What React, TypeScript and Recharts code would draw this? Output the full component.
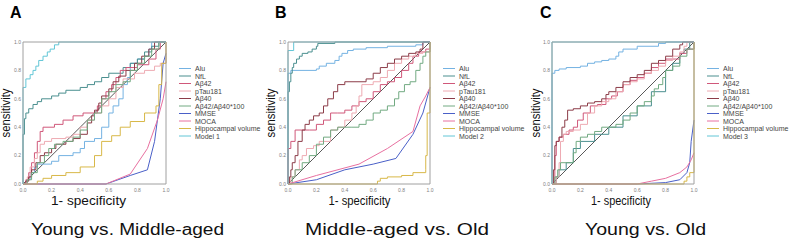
import React from 'react';
import { LineChart, Line, XAxis, YAxis, ReferenceLine } from 'recharts';

type P = [number, number];

const TICKS = [0, 0.2, 0.4, 0.6, 0.8, 1];
const SERIES_NAMES = ['Alu', 'NfL', 'Aβ42', 'pTau181', 'Aβ40', 'Aβ42/Aβ40*100', 'MMSE', 'MOCA', 'Hippocampal volume'];
const MODEL_NAMES = ['Model 1', 'Model 2', 'Model 3'];
const PANEL_LETTERS = ['A', 'B', 'C'];
const SUBTITLES = ['Young vs. Middle-aged', 'Middle-aged vs. Old', 'Young vs. Old'];
const SMOOTH_SERIES = ['MMSE', 'MOCA'];

// ---------- Panel A ----------
const A_ALU: P[] = [[0,0],[0.03,0.03],[0.05,0.08],[0.08,0.12],[0.1,0.14],[0.2,0.16],[0.25,0.2],[0.35,0.22],[0.4,0.25],[0.43,0.3],[0.5,0.32],[0.55,0.4],[0.6,0.5],[0.63,0.55],[0.67,0.6],[0.7,0.7],[0.73,0.75],[0.75,0.85],[0.8,0.88],[0.85,0.9],[0.88,0.95],[0.9,1],[1,1]];
const A_NFL: P[] = [[0,0],[0,0.35],[0.01,0.46],[0.02,0.5],[0.04,0.53],[0.07,0.56],[0.1,0.58],[0.13,0.6],[0.2,0.62],[0.25,0.64],[0.3,0.66],[0.4,0.68],[0.45,0.7],[0.5,0.72],[0.55,0.75],[0.6,0.78],[0.7,0.82],[0.75,0.85],[0.8,0.88],[0.85,0.93],[0.9,0.97],[0.95,1],[1,1]];
const A_AB42: P[] = [[0,0],[0.02,0.03],[0.04,0.08],[0.06,0.15],[0.08,0.22],[0.1,0.3],[0.12,0.37],[0.14,0.4],[0.22,0.42],[0.28,0.45],[0.35,0.48],[0.42,0.5],[0.5,0.5],[0.52,0.55],[0.55,0.6],[0.58,0.65],[0.62,0.7],[0.65,0.75],[0.68,0.8],[0.72,0.82],[0.8,0.84],[0.88,0.88],[0.93,0.95],[0.96,1],[1,1]];
const A_PTAU: P[] = [[0,0],[0.03,0.05],[0.05,0.12],[0.08,0.18],[0.1,0.22],[0.12,0.28],[0.15,0.3],[0.2,0.32],[0.3,0.33],[0.35,0.35],[0.4,0.4],[0.45,0.45],[0.5,0.5],[0.55,0.55],[0.6,0.6],[0.65,0.68],[0.7,0.74],[0.78,0.78],[0.85,0.8],[0.92,0.83],[0.96,0.85],[1,0.85],[1,1]];
const A_AB40: P[] = [[0,0],[0.02,0.02],[0.04,0.05],[0.06,0.1],[0.09,0.15],[0.12,0.2],[0.15,0.22],[0.2,0.25],[0.23,0.28],[0.3,0.3],[0.35,0.32],[0.4,0.35],[0.45,0.43],[0.48,0.48],[0.5,0.52],[0.53,0.57],[0.55,0.62],[0.6,0.67],[0.63,0.72],[0.67,0.76],[0.72,0.8],[0.78,0.85],[0.83,0.9],[0.88,0.95],[0.92,1],[1,1]];
const A_RATIO: P[] = [[0,0],[0.03,0.03],[0.06,0.08],[0.1,0.15],[0.15,0.2],[0.18,0.25],[0.22,0.28],[0.28,0.3],[0.35,0.33],[0.4,0.38],[0.45,0.45],[0.5,0.5],[0.55,0.6],[0.6,0.65],[0.65,0.7],[0.7,0.72],[0.75,0.8],[0.8,0.85],[0.85,0.9],[0.9,0.95],[0.95,1],[1,1]];
const A_MMSE: P[] = [[0,0],[0.58,0],[0.75,0.06],[0.87,0.1],[0.92,0.3],[0.96,0.6],[0.98,0.85],[1,0.92]];
const A_MOCA: P[] = [[0,0],[0.58,0],[0.75,0.07],[0.87,0.25],[0.94,0.45],[0.98,0.6],[1,0.72]];
const A_HIPPO: P[] = [[0,0],[0.1,0],[0.1,0.02],[0.14,0.04],[0.2,0.06],[0.3,0.08],[0.4,0.12],[0.5,0.2],[0.55,0.3],[0.62,0.34],[0.68,0.4],[0.75,0.44],[0.85,0.5],[0.93,0.55],[0.95,0.7],[0.97,0.85],[1,0.85],[1,1]];
const A_MODEL: P[] = [[0,0],[0,0.68],[0.02,0.74],[0.05,0.77],[0.07,0.8],[0.09,0.83],[0.11,0.87],[0.14,0.9],[0.17,0.93],[0.19,0.95],[0.22,0.98],[0.25,1],[1,1]];

// ---------- Panel B ----------
const B_ALU: P[] = [[0,0],[0,0.78],[0.02,0.8],[0.2,0.81],[0.22,0.83],[0.27,0.85],[0.33,0.87],[0.36,0.9],[0.38,0.92],[0.42,0.94],[0.46,0.95],[0.55,0.96],[0.7,0.97],[0.9,0.98],[0.95,1],[1,1]];
const B_NFL: P[] = [[0,0],[0,0.65],[0.01,0.72],[0.02,0.78],[0.03,0.82],[0.04,0.85],[0.06,0.88],[0.08,0.9],[0.1,0.92],[0.14,0.93],[0.17,0.95],[0.2,0.97],[0.21,0.99],[0.33,1],[1,1]];
const B_AB42: P[] = [[0,0],[0,0.25],[0.02,0.3],[0.05,0.38],[0.15,0.38],[0.2,0.42],[0.25,0.45],[0.3,0.5],[0.35,0.5],[0.4,0.52],[0.45,0.55],[0.5,0.58],[0.55,0.6],[0.6,0.65],[0.65,0.7],[0.7,0.72],[0.75,0.75],[0.8,0.8],[0.85,0.85],[0.88,0.9],[0.92,0.93],[0.97,0.95],[1,0.95],[1,1]];
const B_PTAU: P[] = [[0,0],[0.02,0.05],[0.05,0.1],[0.08,0.17],[0.1,0.2],[0.13,0.25],[0.18,0.27],[0.22,0.3],[0.3,0.38],[0.35,0.4],[0.4,0.45],[0.45,0.5],[0.48,0.55],[0.5,0.62],[0.52,0.7],[0.6,0.72],[0.65,0.75],[0.7,0.8],[0.75,0.85],[0.8,0.88],[0.85,0.9],[0.9,0.92],[0.95,0.93],[1,0.93],[1,1]];
const B_AB40: P[] = [[0,0],[0.01,0.05],[0.02,0.1],[0.03,0.15],[0.05,0.2],[0.07,0.3],[0.1,0.38],[0.12,0.42],[0.15,0.45],[0.18,0.48],[0.22,0.5],[0.25,0.55],[0.28,0.6],[0.32,0.65],[0.35,0.7],[0.4,0.72],[0.5,0.72],[0.55,0.74],[0.6,0.78],[0.65,0.82],[0.7,0.85],[0.75,0.88],[0.8,0.9],[0.85,0.92],[0.9,0.93],[0.93,0.95],[0.95,1],[1,1]];
const B_RATIO: P[] = [[0,0],[0.03,0.05],[0.05,0.1],[0.1,0.15],[0.15,0.2],[0.2,0.28],[0.25,0.33],[0.3,0.38],[0.35,0.4],[0.45,0.4],[0.5,0.42],[0.55,0.45],[0.6,0.5],[0.65,0.52],[0.7,0.55],[0.75,0.6],[0.78,0.65],[0.82,0.7],[0.86,0.72],[0.9,0.8],[0.93,0.85],[0.95,0.9],[0.97,0.93],[1,1]];
const B_MMSE: P[] = [[0,0],[0.2,0.03],[0.4,0.1],[0.6,0.14],[0.76,0.18],[0.88,0.35],[0.95,0.5],[1,0.68]];
const B_MOCA: P[] = [[0,0],[0.2,0.06],[0.5,0.14],[0.7,0.25],[0.88,0.37],[0.93,0.55],[0.97,0.62],[1,0.68]];
const B_HIPPO: P[] = [[0,0],[0.62,0],[0.63,0.02],[0.65,0.04],[0.7,0.05],[0.8,0.06],[0.88,0.08],[0.97,0.1],[0.97,0.2],[0.98,0.5],[1,0.5],[1,1]];
const B_MODEL: P[] = [[0,0],[0,0.94],[0.04,1],[1,1]];

// ---------- Panel C ----------
const C_ALU: P[] = [[0,0],[0,0.78],[0.02,0.8],[0.05,0.81],[0.1,0.82],[0.2,0.83],[0.25,0.85],[0.3,0.86],[0.35,0.87],[0.4,0.88],[0.45,0.9],[0.47,0.93],[0.5,0.95],[0.6,0.97],[0.75,0.99],[0.8,1],[1,1]];
const C_NFL: P[] = [[0,0],[0.03,0.05],[0.05,0.1],[0.1,0.15],[0.15,0.25],[0.2,0.3],[0.3,0.35],[0.4,0.4],[0.5,0.48],[0.6,0.55],[0.7,0.65],[0.8,0.8],[0.85,0.85],[0.9,0.92],[0.93,0.95],[0.97,1],[1,1]];
const C_AB42: P[] = [[0,0],[0.02,0.2],[0.03,0.3],[0.05,0.33],[0.08,0.35],[0.12,0.38],[0.15,0.4],[0.18,0.45],[0.22,0.5],[0.27,0.55],[0.32,0.56],[0.38,0.6],[0.42,0.62],[0.46,0.65],[0.5,0.7],[0.55,0.73],[0.6,0.75],[0.65,0.78],[0.7,0.82],[0.75,0.85],[0.8,0.88],[0.9,0.92],[0.95,0.95],[1,0.95],[1,1]];
const C_PTAU: P[] = [[0,0],[0.03,0.05],[0.05,0.15],[0.06,0.3],[0.08,0.35],[0.1,0.37],[0.15,0.38],[0.2,0.42],[0.25,0.5],[0.3,0.55],[0.35,0.58],[0.4,0.6],[0.45,0.65],[0.5,0.7],[0.55,0.72],[0.6,0.74],[0.65,0.78],[0.7,0.8],[0.75,0.83],[0.8,0.87],[0.85,0.9],[0.9,0.93],[0.93,0.97],[0.95,1],[1,1]];
const C_AB40: P[] = [[0,0],[0.01,0.1],[0.02,0.27],[0.03,0.3],[0.05,0.33],[0.07,0.4],[0.09,0.45],[0.11,0.52],[0.15,0.53],[0.2,0.55],[0.25,0.57],[0.3,0.58],[0.35,0.6],[0.38,0.63],[0.4,0.65],[0.45,0.68],[0.5,0.72],[0.55,0.75],[0.6,0.77],[0.65,0.8],[0.7,0.85],[0.75,0.87],[0.8,0.9],[0.85,0.95],[0.9,0.98],[0.92,1],[1,1]];
const C_RATIO: P[] = [[0,0],[0.02,0.05],[0.04,0.1],[0.06,0.15],[0.14,0.15],[0.15,0.22],[0.17,0.3],[0.2,0.33],[0.25,0.35],[0.3,0.37],[0.35,0.4],[0.45,0.42],[0.5,0.45],[0.55,0.5],[0.6,0.55],[0.65,0.58],[0.7,0.62],[0.72,0.67],[0.75,0.7],[0.78,0.75],[0.8,0.8],[0.85,0.83],[0.9,0.9],[0.95,0.95],[1,1]];
const C_MMSE: P[] = [[0,0],[0.6,0],[0.8,0.01],[0.9,0.03],[0.95,0.08],[0.97,0.15],[0.98,0.3],[1,0.45]];
const C_MOCA: P[] = [[0,0],[0.6,0],[0.7,0.02],[0.8,0.04],[0.9,0.08],[0.95,0.12],[0.98,0.17],[1,0.22]];
const C_HIPPO: P[] = [[0,0],[0.93,0],[0.93,0.02],[0.95,0.05],[0.97,0.08],[1,0.08],[1,1]];
const C_MODEL: P[] = [[0,0],[0,1],[1,1]];

const PANEL_DATA: P[][][] = [
  [A_ALU, A_NFL, A_AB42, A_PTAU, A_AB40, A_RATIO, A_MMSE, A_MOCA, A_HIPPO, A_MODEL],
  [B_ALU, B_NFL, B_AB42, B_PTAU, B_AB40, B_RATIO, B_MMSE, B_MOCA, B_HIPPO, B_MODEL],
  [C_ALU, C_NFL, C_AB42, C_PTAU, C_AB40, C_RATIO, C_MMSE, C_MOCA, C_HIPPO, C_MODEL],
];

// ---------- styling ----------
const COLORS = ['#74b2e2', '#4a8f8f', '#d0587a', '#eeaab2', '#8c3c48', '#72aa82', '#4a60c8', '#e870a0', '#d8b848', '#62c6d6'];
const FONT = '"Liberation Sans", Arial, Helvetica, sans-serif';

const LAYOUT = [
  { L: 23, R: 166, T: 42, B: 184, letterX: 10, ylabX: 5.5, xlabCx: 88.5, xlabLen: 75, subCx: 127.5, subLen: 193 },
  { L: 288, R: 430, T: 42, B: 184, letterX: 275, ylabX: 271, xlabCx: 359.5, xlabLen: 62, subCx: 397, subLen: 184 },
  { L: 552, R: 694, T: 42, B: 184, letterX: 540, ylabX: 536, xlabCx: 621, xlabLen: 60, subCx: 645.5, subLen: 121 },
];

const fmt = (v: number) => v.toFixed(1);
const toXY = (pts: P[]) => pts.map(([x, y]) => ({ x, y }));
const tickStyle = { fontSize: 5, fill: '#808080', fontFamily: FONT };
const axisStroke = { stroke: '#a0a0a0', strokeWidth: 1 };

function RocPanel({ idx }: { idx: number }) {
  const lay = LAYOUT[idx];
  const w = lay.R - lay.L + 40;
  const h = lay.B - lay.T + 24;
  const names = [...SERIES_NAMES, MODEL_NAMES[idx]];
  return (
    <div style={{ position: 'absolute', left: lay.L - 20, top: lay.T - 12 }}>
      <LineChart width={w} height={h} margin={{ top: 0, right: 0, bottom: 0, left: 0 }}>
        <XAxis xAxisId="b" dataKey="x" type="number" domain={[0, 1]} ticks={TICKS} interval={0}
          orientation="bottom" height={12} tickSize={0} tickMargin={4} tickLine={false}
          axisLine={axisStroke} tick={tickStyle} tickFormatter={fmt} />
        <XAxis xAxisId="t" dataKey="x" type="number" domain={[0, 1]} ticks={TICKS} interval={0}
          orientation="top" height={12} tickSize={0} tickMargin={5} tickLine={false}
          axisLine={axisStroke} tick={tickStyle} tickFormatter={fmt} />
        <YAxis yAxisId="l" type="number" domain={[0, 1]} ticks={TICKS} interval={0}
          orientation="left" width={20} tickSize={0} tickMargin={2} tickLine={false}
          axisLine={axisStroke} tick={tickStyle} tickFormatter={fmt} />
        <YAxis yAxisId="r" type="number" domain={[0, 1]} ticks={TICKS} interval={0}
          orientation="right" width={20} tickSize={0} tickMargin={2} tickLine={false}
          axisLine={axisStroke} tick={tickStyle} tickFormatter={fmt} />
        <ReferenceLine xAxisId="b" yAxisId="l" segment={[{ x: 0, y: 0 }, { x: 1, y: 1 }]} stroke="#111" strokeWidth={0.7} />
        {PANEL_DATA[idx].map((pts, i) => (
          <Line key={names[i]} name={names[i]} data={toXY(pts)} dataKey="y" xAxisId="b" yAxisId="l"
            type={SMOOTH_SERIES.includes(names[i]) ? 'linear' : 'stepAfter'}
            stroke={COLORS[i]} strokeWidth={1} dot={false} activeDot={false} isAnimationActive={false} />
        ))}
      </LineChart>
    </div>
  );
}

function Texts() {
  return (
    <svg width={790} height={240} style={{ position: 'absolute', left: 0, top: 0, pointerEvents: 'none' }}>
      {LAYOUT.map((lay, idx) => {
        const names = [...SERIES_NAMES, MODEL_NAMES[idx]];
        const yc = (lay.T + lay.B) / 2;
        return (
          <g key={idx} fontFamily={FONT}>
            <text x={lay.letterX} y={18} fontSize={16} fontWeight="bold" fill="#000">{PANEL_LETTERS[idx]}</text>
            <text x={lay.ylabX} y={yc} fontSize={12} fill="#111" textAnchor="middle" dominantBaseline="central"
              transform={`rotate(-90 ${lay.ylabX} ${yc})`} textLength={49} lengthAdjust="spacingAndGlyphs">sensitivity</text>
            <text x={lay.xlabCx} y={205} fontSize={12} fill="#111" textAnchor="middle"
              textLength={lay.xlabLen} lengthAdjust="spacingAndGlyphs">1- specificity</text>
            <text x={lay.subCx} y={235} fontSize={16} fill="#111" textAnchor="middle"
              textLength={lay.subLen} lengthAdjust="spacingAndGlyphs">{SUBTITLES[idx]}</text>
            {names.map((n, i) => {
              const y = 68.5 + i * 7.5;
              return (
                <g key={n}>
                  <line x1={lay.R + 13} x2={lay.R + 25} y1={y} y2={y} stroke={COLORS[i]} strokeWidth={1} />
                  <text x={lay.R + 29} y={y} fontSize={7} fill="#444" dominantBaseline="central">{n}</text>
                </g>
              );
            })}
          </g>
        );
      })}
    </svg>
  );
}

export default function App() {
  return (
    <div style={{ position: 'absolute', left: 0, top: 0, width: 790, height: 240, background: '#fff', overflow: 'hidden' }}>
      {[0, 1, 2].map((i) => <RocPanel key={i} idx={i} />)}
      <Texts />
    </div>
  );
}
